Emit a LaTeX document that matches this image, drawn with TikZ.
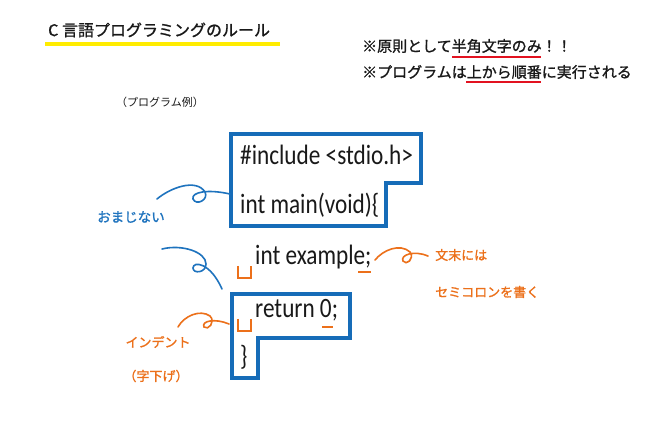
\documentclass[tikz,border=0pt]{standalone}
\usepackage{fontspec}
\setmainfont{Carlito}
\newfontfamily\jp[FakeBold=1.2]{Noto Sans CJK JP}
\newfontfamily\jpthin{Noto Sans CJK JP}
\newfontfamily\codefont[FakeStretch=0.83]{Carlito}
\definecolor{boxblue}{RGB}{22,108,184}
\definecolor{curlblue}{RGB}{30,115,190}
\definecolor{orng}{RGB}{236,112,26}
\definecolor{ylw}{RGB}{255,236,0}
\definecolor{redl}{RGB}{226,18,32}
\definecolor{codeblack}{RGB}{25,25,25}
\tikzset{
  jptext/.style={inner sep=0pt, anchor=west, text=codeblack},
  codeline/.style={anchor=west, inner sep=0pt, text=codeblack, font=\codefont\fontsize{28}{28}\selectfont},
  codebox/.style={draw=boxblue, line width=3.5pt, line join=miter},
  bluelabel/.style={inner sep=0pt, text=curlblue, font=\jp\fontsize{13.5}{14}\selectfont},
  orangelabel/.style={inner sep=0pt, text=orng, font=\jp\fontsize{13}{14}\selectfont},
  bluecurl/.style={draw=curlblue, line width=1.6pt, line cap=round},
  orangecurl/.style={draw=orng, line width=1.6pt, line cap=round},
  marker/.style={draw=orng, line width=1.8pt},
  redline/.style={draw=redl, line width=2pt},
  yellowline/.style={draw=ylw, line width=3.2pt}
}
\begin{document}
\begin{tikzpicture}[x=1pt,y=-1pt]
\fill[white] (0,0) rectangle (656,427);
\useasboundingbox (0,0) rectangle (656,427);

% title
\node[jptext, font=\jp\fontsize{16}{16}\selectfont] (title) at (48,30) {C 言語プログラミングのルール};
\draw[yellowline] (45,44) -- (280,44);

% rules
\node[jptext, font=\jp\fontsize{15}{15}\selectfont] (rule1) at (362,46) {※原則として半角文字のみ！！};
\draw[redline] (452,57) -- (541,57);
\node[jptext, font=\jp\fontsize{15}{15}\selectfont] (rule2) at (362,72) {※プログラムは上から順番に実行される};
\draw[redline] (466,82) -- (541,82);

\node[jptext, font=\jpthin\fontsize{11}{11}\selectfont] (example) at (116,102) {（プログラム例）};

% boxes
\draw[codebox] (231,134) -- (421,134) -- (421,183) -- (386,183) -- (386,226) -- (231,226) -- cycle;
\draw[codebox] (232,294) -- (350,294) -- (350,338) -- (258,338) -- (258,378) -- (232,378) -- cycle;

% code
\node[codeline] (l1) at (240,155) {\#include <stdio.h>};
\node[codeline] (l2) at (240,205) {int main(void)\{};
\node[codeline] (l3) at (255,257) {int example;};
\node[codeline] (l4) at (255,310) {return 0;};
\node[codeline] (l5) at (240,357) {\}};

% indent markers and semicolon underlines
\draw[marker] (238,266) -- (238,278) -- (251,278) -- (251,266);
\draw[marker] (238,319) -- (238,331) -- (251,331) -- (251,319);
\draw[marker] (358,272) -- (371,272);
\draw[marker] (322,327) -- (333,327);

% labels
\node[bluelabel] (omajinai) at (131,217) {おまじない};
\node[orangelabel, anchor=west] (bunmatsu) at (435,255) {文末には};
\node[orangelabel, anchor=west] (semi) at (435,292) {セミコロンを書く};
\node[orangelabel] (indent) at (158,342) {インデント};
\node[orangelabel] (jisage) at (156,376) {（字下げ）};

% curls
\coordinate (b1s) at (157,199);
\coordinate (b1e) at (230,194);
\draw[bluecurl] (b1s) .. controls (170,188) and (196,178) .. (205,192)
  .. controls (209,200) and (196,206) .. (193,199)
  .. controls (191,192) and (208,189) .. (b1e);

\coordinate (b2s) at (162,249);
\coordinate (b2e) at (222,289);
\draw[bluecurl] (b2s) .. controls (182,244) and (206,252) .. (206,264)
  .. controls (206,273) and (193,274) .. (193,268)
  .. controls (193,261) and (210,262) .. (b2e);

\coordinate (o1s) at (375,260);
\coordinate (o1e) at (428,256);
\draw[orangecurl] (o1s) .. controls (383,250) and (400,243) .. (410,252)
  .. controls (415,259) and (406,266) .. (403,261)
  .. controls (400,255) and (414,250) .. (o1e);

\coordinate (o2s) at (178,327);
\coordinate (o2e) at (229,324);
\draw[orangecurl] (o2s) .. controls (184,316) and (200,309) .. (210,316)
  .. controls (216,322) and (208,331) .. (204,327)
  .. controls (201,321) and (215,318) .. (o2e);
\end{tikzpicture}
\end{document}
